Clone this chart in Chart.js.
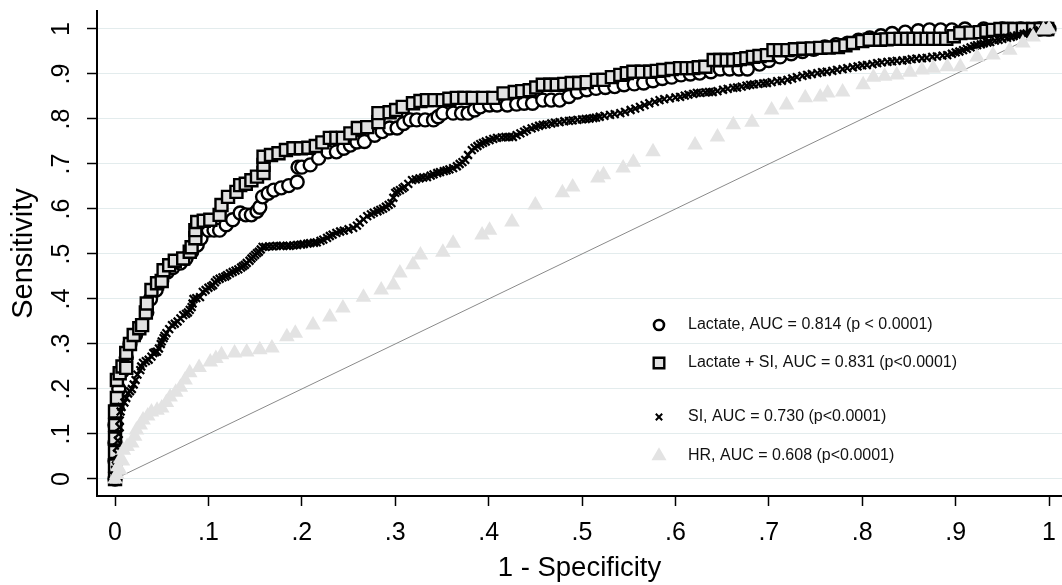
<!DOCTYPE html>
<html>
<head>
<meta charset="utf-8">
<title>ROC curves</title>
<script src="https://cdn.jsdelivr.net/npm/chart.js@4.4.0/dist/chart.umd.min.js"></script>
<style>
  html, body { margin: 0; padding: 0; background: #fff; }
  #myChart { display: block; }
</style>
</head>
<body>
<canvas id="myChart" width="1062" height="585"></canvas>
<script>
// axis ticks
const xTicks = [0, 0.1, 0.2, 0.3, 0.4, 0.5, 0.6, 0.7, 0.8, 0.9, 1];
const yTicks = [0, 0.1, 0.2, 0.3, 0.4, 0.5, 0.6, 0.7, 0.8, 0.9, 1];
const tickLabels = ['0', '.1', '.2', '.3', '.4', '.5', '.6', '.7', '.8', '.9', '1'];

const seriesNames = [
  'Lactate, AUC = 0.814 (p < 0.0001)',
  'Lactate + SI, AUC = 0.831 (p<0.0001)',
  'SI, AUC = 0.730 (p<0.0001)',
  'HR, AUC = 0.608 (p<0.0001)'
];

// [1 - specificity, sensitivity]
const lactateRoc = [[0,0],[0,0.04],[0,0.08],[0,0.12],[0.002,0.16],[0.004,0.2],[0.008,0.24],[0.012,0.27],[0.016,0.3],[0.022,0.32],[0.028,0.34],[0.034,0.37],[0.038,0.4],[0.044,0.42],[0.05,0.44],[0.056,0.46],[0.062,0.47],[0.07,0.48],[0.076,0.49],[0.082,0.505],[0.088,0.52],[0.092,0.535],[0.1,0.553],[0.106,0.553],[0.112,0.553],[0.119,0.565],[0.126,0.576],[0.134,0.591],[0.14,0.587],[0.146,0.587],[0.152,0.595],[0.155,0.604],[0.158,0.627],[0.164,0.635],[0.17,0.642],[0.178,0.647],[0.186,0.652],[0.195,0.66],[0.196,0.693],[0.2,0.693],[0.209,0.698],[0.218,0.713],[0.228,0.727],[0.237,0.727],[0.245,0.735],[0.252,0.742],[0.259,0.749],[0.267,0.75],[0.278,0.764],[0.286,0.772],[0.294,0.78],[0.302,0.78],[0.309,0.79],[0.316,0.798],[0.323,0.798],[0.332,0.798],[0.341,0.798],[0.346,0.805],[0.351,0.813],[0.362,0.813],[0.371,0.813],[0.378,0.813],[0.385,0.82],[0.391,0.827],[0.401,0.831],[0.409,0.831],[0.42,0.831],[0.43,0.833],[0.438,0.835],[0.447,0.835],[0.458,0.842],[0.467,0.842],[0.476,0.842],[0.486,0.85],[0.495,0.86],[0.505,0.865],[0.515,0.868],[0.525,0.87],[0.535,0.872],[0.545,0.876],[0.556,0.878],[0.566,0.88],[0.576,0.885],[0.586,0.89],[0.596,0.893],[0.606,0.898],[0.616,0.9],[0.626,0.902],[0.638,0.905],[0.648,0.911],[0.658,0.911],[0.668,0.911],[0.677,0.911],[0.69,0.922],[0.7,0.93],[0.712,0.938],[0.724,0.945],[0.736,0.95],[0.748,0.955],[0.76,0.96],[0.772,0.965],[0.784,0.968],[0.796,0.975],[0.808,0.98],[0.82,0.985],[0.832,0.99],[0.846,0.993],[0.86,0.996],[0.872,0.998],[0.884,0.998],[0.896,0.998],[0.91,1],[0.93,1],[0.95,1],[0.97,1],[0.99,1],[1,1]];

const lactateSiRoc = [[0,0],[0,0.03],[0,0.06],[0,0.09],[0,0.12],[0,0.15],[0.002,0.18],[0.002,0.22],[0.005,0.235],[0.008,0.25],[0.012,0.247],[0.012,0.28],[0.016,0.3],[0.02,0.32],[0.026,0.335],[0.029,0.342],[0.033,0.37],[0.034,0.39],[0.039,0.42],[0.045,0.435],[0.05,0.44],[0.052,0.464],[0.058,0.475],[0.064,0.485],[0.073,0.49],[0.08,0.505],[0.082,0.515],[0.086,0.535],[0.086,0.553],[0.088,0.571],[0.095,0.574],[0.102,0.576],[0.112,0.587],[0.114,0.609],[0.121,0.627],[0.13,0.638],[0.134,0.653],[0.14,0.656],[0.146,0.664],[0.152,0.672],[0.159,0.68],[0.159,0.698],[0.159,0.716],[0.167,0.72],[0.175,0.724],[0.183,0.731],[0.191,0.735],[0.199,0.735],[0.207,0.736],[0.215,0.74],[0.222,0.748],[0.23,0.758],[0.237,0.758],[0.244,0.758],[0.252,0.768],[0.26,0.78],[0.27,0.782],[0.282,0.793],[0.282,0.813],[0.294,0.815],[0.301,0.82],[0.308,0.827],[0.319,0.835],[0.327,0.84],[0.334,0.842],[0.342,0.842],[0.351,0.842],[0.358,0.845],[0.366,0.847],[0.374,0.847],[0.383,0.847],[0.394,0.847],[0.405,0.847],[0.416,0.857],[0.428,0.86],[0.436,0.862],[0.444,0.864],[0.451,0.87],[0.458,0.876],[0.466,0.876],[0.473,0.876],[0.481,0.878],[0.489,0.88],[0.497,0.88],[0.505,0.882],[0.516,0.887],[0.523,0.887],[0.532,0.893],[0.541,0.898],[0.548,0.902],[0.555,0.905],[0.564,0.905],[0.573,0.905],[0.58,0.907],[0.587,0.909],[0.596,0.911],[0.605,0.913],[0.612,0.913],[0.619,0.913],[0.625,0.915],[0.632,0.916],[0.641,0.931],[0.648,0.931],[0.655,0.931],[0.662,0.931],[0.669,0.933],[0.676,0.935],[0.683,0.938],[0.69,0.94],[0.698,0.942],[0.705,0.953],[0.712,0.953],[0.72,0.953],[0.728,0.955],[0.737,0.956],[0.746,0.957],[0.755,0.958],[0.764,0.959],[0.774,0.96],[0.782,0.964],[0.79,0.969],[0.8,0.973],[0.808,0.976],[0.819,0.976],[0.826,0.977],[0.833,0.978],[0.841,0.978],[0.848,0.978],[0.855,0.978],[0.862,0.978],[0.869,0.978],[0.876,0.978],[0.883,0.978],[0.89,0.978],[0.898,0.984],[0.905,0.991],[0.916,0.992],[0.926,0.993],[0.933,0.996],[0.94,0.998],[0.948,1],[0.955,1],[0.963,1],[0.972,1],[0.983,1],[0.991,1],[0.998,1]];

const siRoc = [[0,0],[0,0.02],[0.002,0.04],[0.002,0.07],[0.004,0.1],[0.005,0.13],[0.006,0.15],[0.01,0.17],[0.014,0.19],[0.018,0.2],[0.022,0.22],[0.027,0.242],[0.03,0.258],[0.036,0.265],[0.041,0.28],[0.045,0.283],[0.049,0.3],[0.052,0.313],[0.055,0.324],[0.061,0.342],[0.067,0.35],[0.073,0.364],[0.078,0.37],[0.082,0.382],[0.084,0.4],[0.091,0.404],[0.094,0.416],[0.1,0.425],[0.105,0.431],[0.109,0.442],[0.115,0.448],[0.12,0.453],[0.126,0.46],[0.132,0.466],[0.137,0.473],[0.141,0.48],[0.146,0.49],[0.15,0.498],[0.154,0.505],[0.158,0.516],[0.165,0.517],[0.173,0.518],[0.18,0.518],[0.187,0.518],[0.195,0.52],[0.202,0.522],[0.209,0.524],[0.216,0.526],[0.223,0.532],[0.23,0.54],[0.237,0.547],[0.245,0.552],[0.255,0.558],[0.262,0.57],[0.27,0.584],[0.277,0.592],[0.284,0.598],[0.29,0.605],[0.296,0.613],[0.3,0.636],[0.305,0.642],[0.31,0.649],[0.318,0.664],[0.326,0.668],[0.334,0.671],[0.341,0.677],[0.348,0.682],[0.355,0.686],[0.362,0.691],[0.369,0.7],[0.375,0.709],[0.382,0.731],[0.388,0.74],[0.394,0.747],[0.401,0.753],[0.409,0.758],[0.418,0.76],[0.426,0.76],[0.434,0.768],[0.441,0.776],[0.45,0.782],[0.458,0.787],[0.467,0.79],[0.476,0.793],[0.486,0.796],[0.495,0.798],[0.504,0.8],[0.512,0.802],[0.519,0.805],[0.53,0.809],[0.541,0.813],[0.552,0.82],[0.562,0.827],[0.572,0.835],[0.583,0.842],[0.594,0.846],[0.605,0.849],[0.614,0.854],[0.623,0.858],[0.632,0.859],[0.64,0.86],[0.651,0.865],[0.662,0.869],[0.671,0.872],[0.68,0.876],[0.689,0.878],[0.698,0.88],[0.709,0.884],[0.72,0.887],[0.73,0.893],[0.741,0.898],[0.752,0.902],[0.762,0.905],[0.773,0.909],[0.784,0.913],[0.795,0.917],[0.805,0.92],[0.816,0.924],[0.827,0.927],[0.837,0.929],[0.848,0.931],[0.858,0.934],[0.869,0.936],[0.88,0.939],[0.891,0.942],[0.9,0.948],[0.908,0.953],[0.916,0.959],[0.923,0.964],[0.93,0.968],[0.937,0.971],[0.946,0.976],[0.955,0.98],[0.962,0.984],[0.969,0.987],[0.976,0.99],[0.983,0.993],[0.99,0.997],[0.998,1],
  [0.001,0.03],[0.003,0.055],[0.003,0.085],[0.005,0.115],[0.007,0.16],[0.012,0.18],[0.016,0.195],[0.02,0.21],[0.024,0.232],[0.028,0.25],[0.033,0.262],[0.039,0.272],[0.043,0.282],[0.047,0.29],[0.05,0.306],[0.053,0.318],[0.058,0.333],[0.064,0.345],[0.07,0.357],[0.076,0.367],[0.08,0.376],[0.083,0.39],[0.087,0.402],[0.097,0.42],[0.103,0.428],[0.107,0.437],[0.112,0.445],[0.118,0.45],[0.123,0.457],[0.129,0.463],[0.135,0.47],[0.139,0.476],[0.144,0.485],[0.148,0.494],[0.152,0.502],[0.156,0.51],[0.161,0.516],[0.169,0.517],[0.177,0.518],[0.184,0.518],[0.191,0.519],[0.199,0.521],[0.206,0.523],[0.213,0.525],[0.22,0.529],[0.227,0.536],[0.233,0.543],[0.241,0.55],[0.25,0.555],[0.259,0.563],[0.266,0.577],[0.274,0.588],[0.281,0.595],[0.287,0.601],[0.293,0.609],[0.298,0.625],[0.302,0.639],[0.308,0.646],[0.314,0.656],[0.322,0.666],[0.33,0.67],[0.338,0.674],[0.345,0.68],[0.352,0.684],[0.358,0.688],[0.366,0.695],[0.372,0.704],[0.378,0.72],[0.385,0.736],[0.391,0.744],[0.397,0.75],[0.405,0.756],[0.414,0.759],[0.422,0.76],[0.43,0.764],[0.438,0.772],[0.446,0.779],[0.454,0.785],[0.462,0.788],[0.471,0.792],[0.481,0.795],[0.49,0.797],[0.5,0.799],[0.508,0.801],[0.515,0.803],[0.524,0.807],[0.535,0.811],[0.546,0.816],[0.557,0.823],[0.567,0.831],[0.578,0.838],[0.588,0.844],[0.6,0.848],[0.61,0.852],[0.619,0.856],[0.627,0.858],[0.636,0.86],[0.645,0.862],[0.656,0.867],[0.666,0.87],[0.676,0.874],[0.684,0.877],[0.694,0.879],[0.703,0.882],[0.714,0.885],[0.725,0.89],[0.736,0.896],[0.746,0.9],[0.757,0.904],[0.768,0.907],[0.779,0.911],[0.79,0.915],[0.8,0.919],[0.811,0.922],[0.821,0.926],[0.832,0.928],[0.843,0.93],[0.853,0.933],[0.864,0.935],[0.875,0.938],[0.886,0.941],[0.896,0.945],[0.904,0.95],[0.912,0.956],[0.92,0.962],[0.927,0.966],[0.934,0.97],[0.942,0.974],[0.95,0.978],[0.959,0.982],[0.966,0.986],[0.973,0.989],[0.98,0.992],[0.987,0.995],[0.994,0.998]];

const hrRoc = [[0,0],[0.002,0.01],[0.005,0.02],[0.003,0.027],[0.008,0.04],[0.006,0.045],[0.009,0.064],[0.013,0.072],[0.018,0.08],[0.021,0.095],[0.023,0.109],[0.027,0.12],[0.03,0.131],[0.035,0.14],[0.039,0.149],[0.045,0.153],[0.05,0.158],[0.055,0.17],[0.059,0.182],[0.065,0.193],[0.07,0.204],[0.075,0.22],[0.08,0.236],[0.09,0.248],[0.102,0.26],[0.108,0.268],[0.114,0.276],[0.128,0.28],[0.141,0.282],[0.155,0.287],[0.168,0.291],[0.184,0.316],[0.193,0.324],[0.212,0.342],[0.23,0.36],[0.244,0.38],[0.266,0.404],[0.285,0.42],[0.298,0.431],[0.305,0.458],[0.319,0.476],[0.327,0.498],[0.351,0.504],[0.362,0.524],[0.393,0.542],[0.401,0.553],[0.425,0.571],[0.45,0.609],[0.479,0.636],[0.49,0.649],[0.517,0.669],[0.523,0.676],[0.544,0.691],[0.555,0.704],[0.576,0.727],[0.621,0.742],[0.645,0.76],[0.662,0.787],[0.682,0.793],[0.703,0.82],[0.719,0.831],[0.739,0.847],[0.755,0.849],[0.763,0.858],[0.779,0.86],[0.801,0.876],[0.812,0.893],[0.824,0.895],[0.837,0.898],[0.851,0.904],[0.864,0.909],[0.876,0.913],[0.891,0.916],[0.905,0.916],[0.923,0.938],[0.94,0.942],[0.958,0.953],[0.972,0.969],[0.983,0.982],[0.994,0.998],[1,1]];

const chanceLine = [[0, 0], [1, 1]];

const toPoints = arr => arr.map(p => ({ x: p[0], y: p[1] }));

Chart.defaults.font.family = "'Liberation Sans', Arial, sans-serif";
Chart.defaults.color = '#000';

// legend drawn inside the plot, like the original
const legendRows = [325, 363, 417, 456];
const insideLegend = {
  id: 'insideLegend',
  afterDraw(chart) {
    const c = chart.ctx;
    c.save();
    chart.data.datasets.forEach((ds, i) => {
      if (!ds.legendMarker) return;
      const y = legendRows[i];
      c.fillStyle = ds.backgroundColor;
      c.strokeStyle = ds.borderColor;
      c.lineWidth = ds.legendMarker.borderWidth;
      Chart.helpers.drawPoint(c, {
        pointStyle: ds.pointStyle,
        radius: ds.legendMarker.radius,
        rotation: 0,
        borderWidth: ds.legendMarker.borderWidth
      }, 659, y);
      c.fillStyle = '#111';
      c.font = "16px 'Liberation Sans', Arial, sans-serif";
      c.textAlign = 'left';
      c.textBaseline = 'middle';
      c.fillText(ds.label, 688, y);
    });
    c.restore();
  }
};

const ctx = document.getElementById('myChart');

new Chart(ctx, {
  type: 'scatter',
  data: {
    datasets: [
      {
        label: seriesNames[0],
        data: toPoints(lactateRoc),
        pointStyle: 'circle',
        pointRadius: 6.5,
        borderWidth: 2.4,
        borderColor: '#000',
        backgroundColor: '#fff',
        legendMarker: { radius: 5, borderWidth: 2.6 },
        order: 3
      },
      {
        label: seriesNames[1],
        data: toPoints(lactateSiRoc),
        pointStyle: 'rect',
        pointRadius: 8.5,
        borderWidth: 2.4,
        borderColor: '#000',
        backgroundColor: '#e1e1e1',
        legendMarker: { radius: 7.5, borderWidth: 2.4 },
        order: 2
      },
      {
        label: seriesNames[2],
        data: toPoints(siRoc),
        pointStyle: 'crossRot',
        pointRadius: 5.5,
        borderWidth: 2.2,
        borderColor: '#000',
        backgroundColor: '#000',
        legendMarker: { radius: 4.5, borderWidth: 2 },
        order: 1
      },
      {
        label: seriesNames[3],
        data: toPoints(hrRoc),
        pointStyle: 'triangle',
        pointRadius: 9,
        borderWidth: 0,
        borderColor: '#e3e3e3',
        backgroundColor: '#e3e3e3',
        legendMarker: { radius: 8.7, borderWidth: 0 },
        order: 0
      },
      {
        label: 'reference',
        data: toPoints(chanceLine),
        showLine: true,
        pointRadius: 0,
        borderWidth: 1,
        borderColor: '#8a8a8a',
        backgroundColor: '#8a8a8a',
        order: 4
      }
    ]
  },
  options: {
    responsive: false,
    animation: false,
    events: [],
    clip: false,
    layout: { autoPadding: false, padding: { top: 11, right: 0, left: 0, bottom: 0 } },
    plugins: {
      legend: { display: false },
      tooltip: { enabled: false }
    },
    scales: {
      x: {
        type: 'linear',
        min: -0.0193,
        max: 1.0139,
        afterBuildTicks: s => { s.ticks = xTicks.map(v => ({ value: v })); },
        afterFit: s => { s.height = 89; s.paddingLeft = 0; s.paddingRight = 0; },
        ticks: {
          callback: (v, i) => tickLabels[i],
          font: { size: 25 },
          padding: 12,
          maxRotation: 0,
          autoSkip: false
        },
        grid: {
          drawOnChartArea: false,
          drawTicks: true,
          tickLength: 10,
          tickColor: '#000',
          tickWidth: 1.5
        },
        border: { display: true, color: '#000', width: 2 },
        title: {
          display: true,
          text: '1 - Specificity',
          font: { size: 27.5 },
          padding: { top: 0, bottom: 0 }
        }
      },
      y: {
        type: 'linear',
        min: -0.0378,
        max: 1.04,
        afterBuildTicks: s => { s.ticks = yTicks.map(v => ({ value: v })); },
        afterFit: s => { s.width = 97; s.paddingTop = 0; s.paddingBottom = 0; },
        ticks: {
          callback: (v, i) => tickLabels[i],
          font: { size: 25 },
          padding: 14,
          minRotation: 90,
          maxRotation: 90,
          crossAlign: 'center',
          autoSkip: false
        },
        grid: {
          color: '#e3eced',
          lineWidth: 1,
          drawTicks: true,
          tickLength: 10,
          tickColor: '#000',
          tickWidth: 1.5
        },
        border: { display: true, color: '#000', width: 2 },
        title: {
          display: true,
          text: 'Sensitivity',
          font: { size: 29 },
          padding: { top: 7, bottom: 0 }
        }
      }
    }
  },
  plugins: [insideLegend]
});
</script>
</body>
</html>
